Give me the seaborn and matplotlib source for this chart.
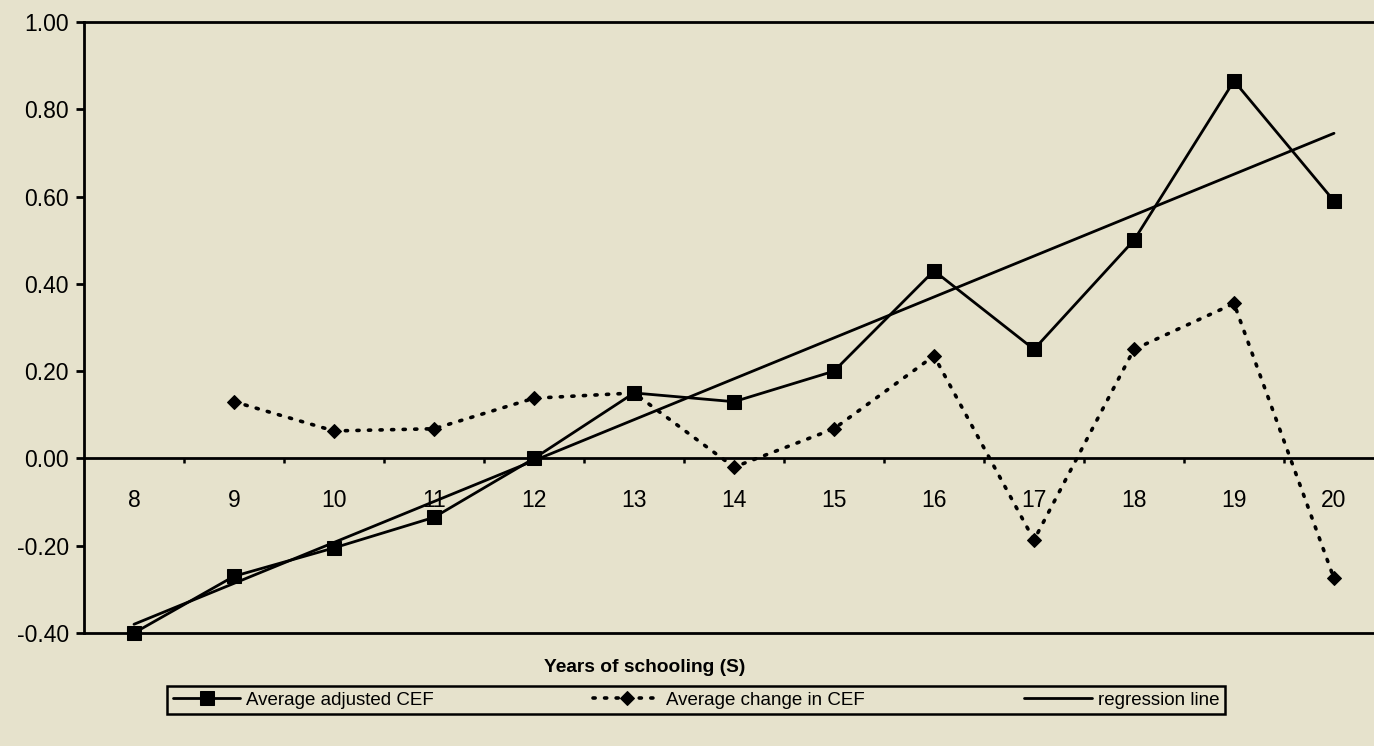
"""Average adjusted CEF by years of schooling, with change series and regression line."""

import matplotlib.pyplot as plt
import numpy as np
import pandas as pd
import seaborn as sns
from matplotlib.ticker import FixedLocator, StrMethodFormatter

# values
years = [8, 9, 10, 11, 12, 13, 14, 15, 16, 17, 18, 19, 20]
adjusted_cef = [-0.40, -0.27, -0.205, -0.135, 0.00, 0.15, 0.13, 0.20, 0.43, 0.25, 0.50, 0.865, 0.59]
change_years = [9, 10, 11, 12, 13, 14, 15, 16, 17, 18, 19, 20]
change_cef = [0.13, 0.063, 0.068, 0.138, 0.15, -0.02, 0.068, 0.235, -0.187, 0.25, 0.355, -0.275]
regression_years = [8, 20]
regression_cef = [-0.38, 0.745]
y_ticks = [-0.40, -0.20, 0.00, 0.20, 0.40, 0.60, 0.80, 1.00]

BG = "#e6e2cc"

sns.set_style("white")
plt.rcParams["font.family"] = ["Liberation Sans", "DejaVu Sans"]
plt.rcParams["axes.unicode_minus"] = False
plt.rcParams["text.color"] = "black"
plt.rcParams["xtick.color"] = "black"
plt.rcParams["ytick.color"] = "black"

adj_df = pd.DataFrame({"S": years, "CEF": adjusted_cef})
chg_df = pd.DataFrame({"S": change_years, "CEF": change_cef})
reg_df = pd.DataFrame({"S": regression_years, "CEF": regression_cef})

fig = plt.figure(figsize=(13.74, 7.46), dpi=100, facecolor=BG)
ax = fig.add_axes([84 / 1374, 113 / 746, 1300 / 1374, 611 / 746])
ax.set_facecolor(BG)

sns.lineplot(data=adj_df, x="S", y="CEF", color="black", linewidth=2.0,
             marker="s", markersize=9.5, markeredgecolor="black",
             label="Average adjusted CEF", clip_on=False, zorder=4, ax=ax)
sns.lineplot(data=chg_df, x="S", y="CEF", color="black", linewidth=2.6,
             linestyle=(0, (0.6, 2.6)), dash_capstyle="round",
             marker="D", markersize=7.5, markeredgecolor="black",
             label="Average change in CEF", clip_on=False, zorder=4, ax=ax)
sns.lineplot(data=reg_df, x="S", y="CEF", color="black", linewidth=2.0,
             label="regression line", clip_on=False, zorder=4, ax=ax)

ax.set_xlim(7.5, 20.5)
ax.set_ylim(-0.40, 1.00)
ax.set_xlabel("")
ax.set_ylabel("")

# category axis sits on the zero line
ax.spines["bottom"].set_position(("data", 0))
for side in ["bottom", "left", "top"]:
    ax.spines[side].set_linewidth(2.0)
    ax.spines[side].set_color("black")
ax.spines["right"].set_visible(False)
ax.axhline(-0.40, color="black", linewidth=2.0, clip_on=False, zorder=3)

ax.xaxis.set_major_locator(FixedLocator(years))
ax.xaxis.set_minor_locator(FixedLocator(np.array(years[:-1]) + 0.5))
ax.tick_params(axis="x", which="major", length=0, pad=22, labelsize=16.5,
               labelcolor="black")
ax.tick_params(axis="x", which="minor", direction="out", length=3.5, width=1.8,
               color="black", bottom=True)
ax.set_yticks(y_ticks)
ax.yaxis.set_major_formatter(StrMethodFormatter("{x:.2f}"))
ax.tick_params(axis="y", direction="out", length=6, width=2.0, pad=5,
               labelsize=16.5, labelcolor="black", left=True)

fig.text(645 / 1374, 1 - 668 / 746, "Years of schooling (S)", ha="center",
         va="center", fontsize=13.8, fontweight="bold", color="black")

handles, labels = ax.get_legend_handles_labels()
ax.get_legend().remove()
leg = fig.legend(handles, labels, loc="center", ncol=3,
                 bbox_to_anchor=(696 / 1374, 1 - 700 / 746),
                 fontsize=13.5, handlelength=3.6, handletextpad=0.3,
                 columnspacing=8.5, frameon=True, fancybox=False,
                 borderpad=0.3, borderaxespad=0)
for text in leg.get_texts():
    text.set_color("black")
leg.get_frame().set_edgecolor("black")
leg.get_frame().set_linewidth(1.8)
leg.get_frame().set_facecolor(BG)
leg.get_frame().set_alpha(1)

fig.savefig("out.png", dpi=100, facecolor=BG)
